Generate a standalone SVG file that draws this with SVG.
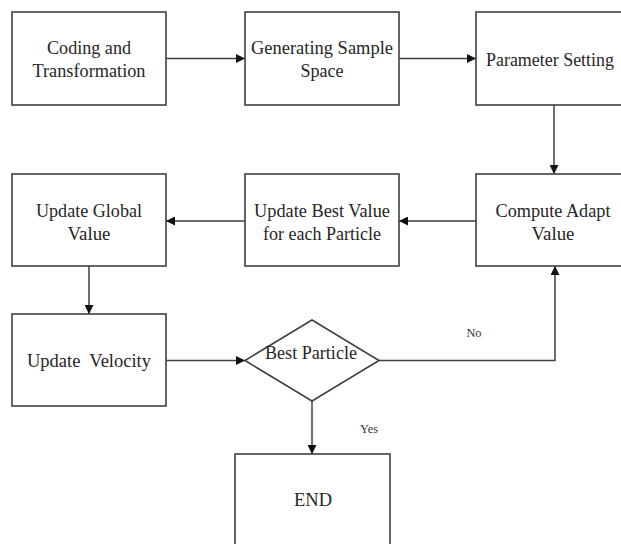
<svg xmlns="http://www.w3.org/2000/svg" width="621" height="544" viewBox="0 0 621 544">
  <defs>
    <marker id="arrow" viewBox="0 0 10 10" refX="10" refY="5" markerWidth="9" markerHeight="9" markerUnits="userSpaceOnUse" orient="auto">
      <path d="M0,0 L10,5 L0,10 Z" fill="#111"/>
    </marker>
    <style>
      .box { fill: #fff; stroke: #404040; stroke-width: 1.6; }
      .lbl { font-family: "Liberation Serif", "Times New Roman", serif; font-size: 19.5px; fill: #262626; text-anchor: middle; }
      .small { font-family: "Liberation Serif", "Times New Roman", serif; font-size: 13px; fill: #333; text-anchor: middle; }
      .edge { fill: none; stroke: #404040; stroke-width: 1.5; }
    </style>
  </defs>

  <rect width="621" height="544" fill="#fff"/>

  <!-- connectors -->
  <g id="connectors">
    <line class="edge" x1="166" y1="58.5" x2="245" y2="58.5" marker-end="url(#arrow)"/>
    <line class="edge" x1="399" y1="58.5" x2="476" y2="58.5" marker-end="url(#arrow)"/>
    <line class="edge" x1="554" y1="105" x2="554" y2="174" marker-end="url(#arrow)"/>
    <line class="edge" x1="476" y1="221" x2="399" y2="221" marker-end="url(#arrow)"/>
    <line class="edge" x1="245" y1="221" x2="166" y2="221" marker-end="url(#arrow)"/>
    <line class="edge" x1="89" y1="266" x2="89" y2="314" marker-end="url(#arrow)"/>
    <line class="edge" x1="166" y1="360.5" x2="245" y2="360.5" marker-end="url(#arrow)"/>
    <polyline class="edge" points="379,360.5 555,360.5 555,266" marker-end="url(#arrow)"/>
    <line class="edge" x1="312" y1="401" x2="312" y2="454" marker-end="url(#arrow)"/>
    <text class="small" x="474" y="337" textLength="15" lengthAdjust="spacingAndGlyphs">No</text>
    <text class="small" x="369" y="433" textLength="18" lengthAdjust="spacingAndGlyphs">Yes</text>
  </g>

  <!-- nodes -->
  <g id="coding">
    <rect class="box" x="12" y="12" width="154" height="93"/>
    <text class="lbl" x="89" y="54" textLength="84" lengthAdjust="spacingAndGlyphs">Coding and</text>
    <text class="lbl" x="89" y="77" textLength="113" lengthAdjust="spacingAndGlyphs">Transformation</text>
  </g>
  <g id="sample-space">
    <rect class="box" x="245" y="12" width="154" height="93"/>
    <text class="lbl" x="322" y="54" textLength="142" lengthAdjust="spacingAndGlyphs">Generating Sample</text>
    <text class="lbl" x="322" y="77" textLength="43" lengthAdjust="spacingAndGlyphs">Space</text>
  </g>
  <g id="parameter">
    <rect class="box" x="476" y="12" width="154" height="93"/>
    <text class="lbl" x="550" y="66" style="font-size:18.5px" textLength="128" lengthAdjust="spacingAndGlyphs">Parameter Setting</text>
  </g>
  <g id="compute">
    <rect class="box" x="476" y="174" width="154" height="92"/>
    <text class="lbl" x="553" y="217" textLength="115" lengthAdjust="spacingAndGlyphs">Compute Adapt</text>
    <text class="lbl" x="553" y="240" textLength="43" lengthAdjust="spacingAndGlyphs">Value</text>
  </g>
  <g id="best-value">
    <rect class="box" x="245" y="174" width="154" height="92"/>
    <text class="lbl" x="322" y="217" textLength="136" lengthAdjust="spacingAndGlyphs">Update Best Value</text>
    <text class="lbl" x="322" y="240" textLength="118" lengthAdjust="spacingAndGlyphs">for each Particle</text>
  </g>
  <g id="global">
    <rect class="box" x="12" y="174" width="154" height="92"/>
    <text class="lbl" x="89" y="217" textLength="106" lengthAdjust="spacingAndGlyphs">Update Global</text>
    <text class="lbl" x="89" y="240" textLength="43" lengthAdjust="spacingAndGlyphs">Value</text>
  </g>
  <g id="velocity">
    <rect class="box" x="12" y="314" width="154" height="92"/>
    <text class="lbl" x="89" y="367" xml:space="preserve" textLength="124" lengthAdjust="spacingAndGlyphs">Update  Velocity</text>
  </g>
  <g id="best-particle">
    <polygon class="box" points="312,320 379,360.5 312,401 245,360.5"/>
    <text class="lbl" x="311" y="359" textLength="92" lengthAdjust="spacingAndGlyphs">Best Particle</text>
  </g>
  <g id="end">
    <rect class="box" x="235" y="454" width="155" height="100"/>
    <text class="lbl" x="313" y="506" textLength="38" lengthAdjust="spacingAndGlyphs">END</text>
  </g>
</svg>
